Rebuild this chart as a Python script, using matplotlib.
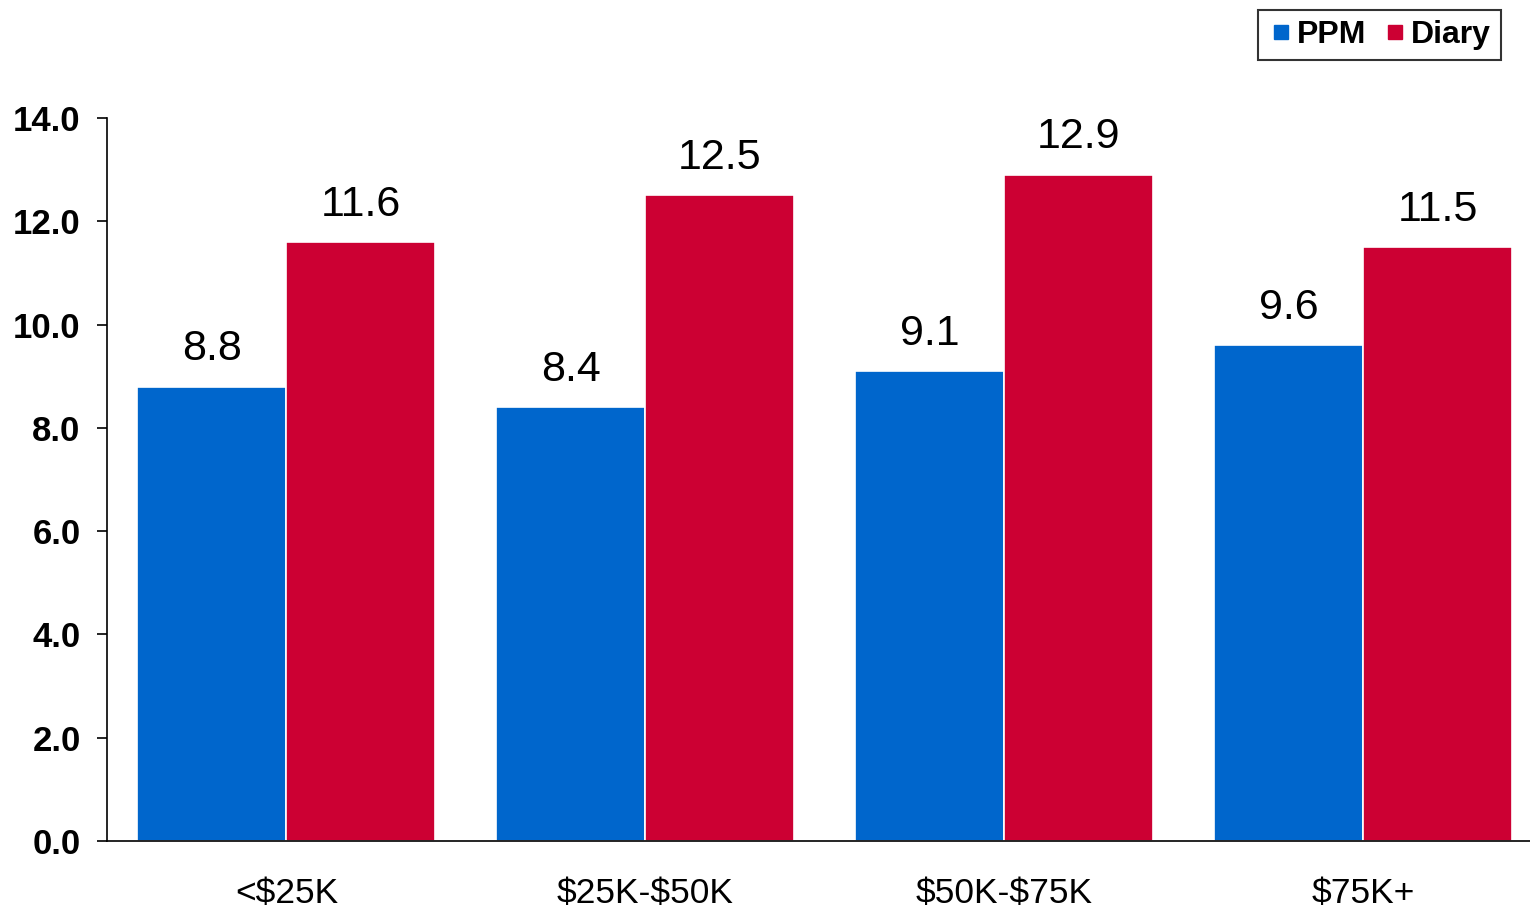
"""Grouped bar chart: PPM vs Diary by income band."""

import matplotlib

matplotlib.use("Agg")
import matplotlib.pyplot as plt
from matplotlib.lines import Line2D
import numpy as np

categories = ["<$25K", "$25K-$50K", "$50K-$75K", "$75K+"]
ppm_values = [8.8, 8.4, 9.1, 9.6]
diary_values = [11.6, 12.5, 12.9, 11.5]
series_names = ["PPM", "Diary"]
y_ticks = [0.0, 2.0, 4.0, 6.0, 8.0, 10.0, 12.0, 14.0]

BLUE = "#0066CC"
RED = "#CC0033"

plt.rcParams["font.family"] = ["Liberation Sans", "DejaVu Sans"]
plt.rcParams["text.parse_math"] = False

fig = plt.figure(figsize=(15.3, 9.11), dpi=100)
ax = fig.add_axes([0.0699, 0.0768, 0.9301, 0.7937])

x = np.arange(len(categories))
width = 0.415
ppm_bars = ax.bar(x - width / 2, ppm_values, width, color=BLUE, edgecolor="white", linewidth=1.2)
diary_bars = ax.bar(x + width / 2, diary_values, width, color=RED, edgecolor="white", linewidth=1.2)

for bars, values in ((ppm_bars, ppm_values), (diary_bars, diary_values)):
    for bar, value in zip(bars, values):
        ax.annotate(
            f"{value:.1f}",
            (bar.get_x() + bar.get_width() / 2, value),
            xytext=(0, 12.5),
            textcoords="offset points",
            ha="center",
            va="bottom",
            fontsize=31,
        )

ax.set_xlim(-0.5, 3.465)
ax.set_ylim(0, 14)
ax.set_yticks(y_ticks)
ax.set_yticklabels([f"{t:.1f}" for t in y_ticks], fontsize=25, fontweight="bold")
ax.set_xticks(x)
ax.set_xticklabels(categories, fontsize=25.5)
ax.tick_params(axis="x", length=0, pad=26)
ax.tick_params(axis="y", length=7, width=1.2, direction="out", pad=12)

for side in ("top", "right"):
    ax.spines[side].set_visible(False)
ax.spines["left"].set_linewidth(1.2)
ax.spines["bottom"].set_linewidth(1.2)

handles = [
    Line2D([], [], marker="s", linestyle="none", markersize=10, color=BLUE),
    Line2D([], [], marker="s", linestyle="none", markersize=10, color=RED),
]
legend = fig.legend(
    handles,
    series_names,
    loc="upper right",
    bbox_to_anchor=(0.981, 0.989),
    ncol=2,
    frameon=True,
    fancybox=False,
    edgecolor="black",
    prop={"size": 23, "weight": "bold"},
    handletextpad=0.1,
    columnspacing=0.5,
    handlelength=0.8,
    borderpad=0.32,
    borderaxespad=0.0,
)
legend.get_frame().set_linewidth(1.5)

fig.savefig("out.png", dpi=100)
